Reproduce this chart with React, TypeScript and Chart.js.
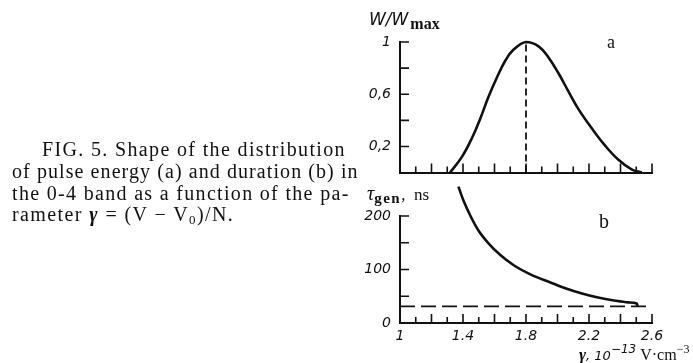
import React, { useEffect, useRef } from "react";
import { Chart, registerables } from "chart.js";

Chart.register(...registerables);

// ---- data ----
// panel a: normalized pulse energy W/Wmax vs gamma (10^-13 V·cm^-3)
const gammaA = [1.318, 1.393, 1.457, 1.51, 1.562, 1.616, 1.67, 1.72, 1.8, 1.88, 1.944, 2.008, 2.07, 2.134, 2.22, 2.3, 2.385, 2.47, 2.535];
const energyA = [0, 0.12, 0.265, 0.415, 0.58, 0.73, 0.86, 0.94, 1.0, 0.967, 0.88, 0.757, 0.62, 0.484, 0.335, 0.21, 0.1, 0.025, 0];
const peakGamma = [1.8, 1.8];
const peakLevel = [0, 1];

// panel b: generation duration tau_gen (ns) vs gamma
const gammaB = [1.371, 1.403, 1.446, 1.498, 1.562, 1.637, 1.722, 1.828, 1.944, 2.05, 2.15, 2.25, 2.35, 2.45, 2.503, 2.51];
const tauB = [255, 229, 201, 173, 149, 127, 108, 91, 77, 65, 55.5, 48, 42.5, 38.5, 36.4, 31];
const limitGamma = [1.0, 2.567];
const limitTau = [31, 31];

// ticks
const xTickValues = [1, 1.4, 1.8, 2.2, 2.6];
const xTickLabels = ["1", "1.4", "1.8", "2.2", "2.6"];
const yTickValuesA = [0.2, 0.6, 1];
const yTickLabelsA = ["0,2", "0,6", "1"];
const yTickValuesB = [0, 100, 200];
const yTickLabelsB = ["0", "100", "200"];

const INK = "#111";

const pts = (xs: number[], ys: number[]) => xs.map((x, i) => ({ x, y: ys[i] }));

const innerTicks = {
  id: "innerTicks",
  afterDraw(chart: any) {
    const { ctx, chartArea, scales } = chart;
    const x = scales.x, y = scales.y;
    ctx.save();
    ctx.strokeStyle = INK;
    ctx.lineWidth = 1.6;
    ctx.beginPath();
    x.ticks.forEach((t: any) => {
      if (t.value <= x.min + 1e-9) return;
      const px = x.getPixelForValue(t.value);
      const even = Math.round(t.value * 10) % 2 === 0;
      const len = even ? 9 : 6;
      ctx.moveTo(px, chartArea.bottom);
      ctx.lineTo(px, chartArea.bottom - len);
    });
    y.ticks.forEach((t: any) => {
      if (t.value <= y.min + 1e-9) return;
      const py = y.getPixelForValue(t.value);
      ctx.moveTo(chartArea.left, py);
      ctx.lineTo(chartArea.left + 9, py);
    });
    ctx.stroke();
    ctx.restore();
  },
};

const tickFont = { family: "'DejaVu Sans', sans-serif", size: 14, style: "italic" as const };

function labelFrom(values: number[], labels: string[], scale: number) {
  return (v: any) => {
    const r = Math.round(Number(v) * scale) / scale;
    const i = values.findIndex((q) => Math.abs(q - r) < 1e-6);
    return i >= 0 ? labels[i] : "";
  };
}

function makeOptions(panel: "a" | "b"): any {
  const isA = panel === "a";
  return {
    responsive: false,
    animation: false,
    devicePixelRatio: 1,
    layout: { padding: { top: isA ? 22 : 36, right: 18, left: 0, bottom: 0 } },
    plugins: { legend: { display: false }, tooltip: { enabled: false } },
    elements: { point: { radius: 0 } },
    scales: {
      x: {
        type: "linear",
        min: 1,
        max: 2.6,
        afterFit: (s: any) => { s.height = isA ? 13 : 40; },
        grid: { display: false, drawTicks: false },
        border: { display: true, color: INK, width: 2 },
        ticks: {
          display: !isA,
          stepSize: 0.1,
          autoSkip: false,
          maxRotation: 0,
          padding: 5,
          color: INK,
          font: tickFont,
          callback: labelFrom(xTickValues, xTickLabels, 10),
        },
      },
      y: {
        type: "linear",
        min: 0,
        max: isA ? 1 : 200,
        afterFit: (s: any) => { s.width = 60; },
        grid: { display: false, drawTicks: false },
        border: { display: true, color: INK, width: 2 },
        ticks: {
          stepSize: isA ? 0.2 : 50,
          autoSkip: false,
          padding: 9,
          color: INK,
          font: tickFont,
          callback: isA ? labelFrom(yTickValuesA, yTickLabelsA, 10) : labelFrom(yTickValuesB, yTickLabelsB, 1),
        },
      },
    },
  };
}

function Panel({ panel, left, top, width, height }: { panel: "a" | "b"; left: number; top: number; width: number; height: number }) {
  const ref = useRef<HTMLCanvasElement>(null);
  useEffect(() => {
    if (!ref.current) return;
    const datasets: any[] =
      panel === "a"
        ? [
            { data: pts(gammaA, energyA), borderColor: INK, borderWidth: 2.6, tension: 0.4, clip: false },
            { data: pts(peakGamma, peakLevel), borderColor: INK, borderWidth: 1.8, borderDash: [7, 4] },
          ]
        : [
            { data: pts(gammaB, tauB), borderColor: INK, borderWidth: 2.6, cubicInterpolationMode: "monotone", clip: false },
            { data: pts(limitGamma, limitTau), borderColor: INK, borderWidth: 1.8, borderDash: [15, 6] },
          ];
    const chart = new Chart(ref.current, {
      type: "line",
      data: { datasets },
      options: makeOptions(panel),
      plugins: [innerTicks],
    });
    return () => chart.destroy();
  }, [panel]);
  return (
    <canvas
      ref={ref}
      width={width}
      height={height}
      style={{ position: "absolute", left, top, width, height }}
    />
  );
}

const serif = "'Liberation Serif', 'Times New Roman', serif";
const sans = "'DejaVu Sans', sans-serif";

function T({ x, y, size, children, style }: any) {
  // y = baseline
  return (
    <div
      style={{
        position: "absolute",
        left: x,
        top: y - 0.84 * size,
        fontSize: size,
        lineHeight: `${size}px`,
        whiteSpace: "nowrap",
        color: INK,
        fontFamily: serif,
        ...style,
      }}
    >
      {children}
    </div>
  );
}

const captionLines = [
  "FIG. 5. Shape of the distribution",
  "of pulse energy (a) and duration (b) in",
  "the 0-4 band as a function of the pa-",
];

export default function App() {
  return (
    <div style={{ position: "absolute", left: 0, top: 0, width: 693, height: 363, background: "#fff", overflow: "hidden" }}>
      <Panel panel="a" left={340} top={20} width={330} height={170} />
      <Panel panel="b" left={340} top={180} width={330} height={183} />

      {/* caption */}
      <T x={42} y={156} size={20} style={{ letterSpacing: 1.35 }}>{captionLines[0]}</T>
      <T x={12} y={177.7} size={20} style={{ letterSpacing: 1.08 }}>{captionLines[1]}</T>
      <T x={12} y={199.3} size={20} style={{ letterSpacing: 1.32 }}>{captionLines[2]}</T>
      <T x={12} y={221} size={20} style={{ letterSpacing: 1.4 }}>
        rameter <b style={{ fontStyle: "italic" }}>γ</b> = (V − V<sub style={{ fontSize: 13, verticalAlign: -3 }}>0</sub>)/N.
      </T>

      {/* panel a labels */}
      <T x={369} y={25} size={17} style={{ fontFamily: sans, fontStyle: "italic" }}>
        W/W<span style={{ fontFamily: serif, fontStyle: "normal", fontWeight: "bold", fontSize: 16, position: "relative", top: 4, marginLeft: 2 }}>max</span>
      </T>
      <T x={607} y={48} size={18}>a</T>

      {/* panel b labels */}
      <T x={367} y={200} size={20} style={{ fontStyle: "italic" }}>
        τ<span style={{ fontStyle: "normal", fontWeight: "bold", fontSize: 15, letterSpacing: 1.5, position: "relative", top: 3 }}>gen</span>
        <span style={{ fontStyle: "normal", fontSize: 17 }}>,&nbsp; ns</span>
      </T>
      <T x={599} y={228} size={20}>b</T>

      {/* x axis title */}
      <T x={579} y={360} size={17}>
        <b style={{ fontStyle: "italic" }}>γ</b>
        <span style={{ fontFamily: sans, fontStyle: "italic", fontSize: 13 }}>, 10</span>
        <span style={{ fontFamily: sans, fontStyle: "italic", fontSize: 12, position: "relative", top: -7 }}>−13</span>
        <span style={{ fontSize: 16 }}> V·cm</span>
        <span style={{ fontSize: 12, position: "relative", top: -7 }}>−3</span>
      </T>
    </div>
  );
}
